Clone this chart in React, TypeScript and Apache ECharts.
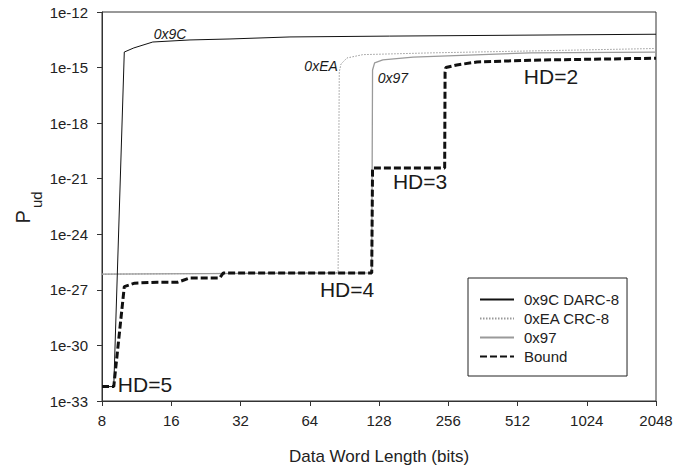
import React, { useEffect, useRef } from "react";
import * as echarts from "echarts";

// ---- Data (x: data word length in bits, y: Pud) ----
const xTicks = [8, 16, 32, 64, 128, 256, 512, 1024, 2048];

const darcX = [8, 9, 10, 11, 13.3, 19.3, 28.8, 52.5, 142, 2048];
const darcY = [6e-33, 6e-33, 6.9e-15, 1.15e-14, 2.4e-14, 3.1e-14, 3.5e-14, 4.5e-14, 5e-14, 6.3e-14];

const crcX = [8, 85, 86, 87.5, 92.9, 109, 214, 2048];
const crcY = [7e-27, 8.5e-27, 5.8e-16, 1.55e-15, 3.3e-15, 5e-15, 6.2e-15, 1.07e-14];

const p97X = [8, 119, 120, 122.5, 133, 180, 581, 2048];
const p97Y = [7e-27, 8.3e-27, 7.4e-16, 1.78e-15, 2.57e-15, 3.7e-15, 6.2e-15, 6.9e-15];

const boundX = [8, 9, 10, 11.1, 13.9, 17.1, 19.3, 26, 26.9, 119, 120, 247, 248, 250, 279, 341, 581, 2048];
const boundY = [6e-33, 6e-33, 1.5e-27, 2.3e-27, 2.6e-27, 2.6e-27, 4.4e-27, 4.4e-27, 8.1e-27, 8.1e-27,
  3.8e-21, 3.8e-21, 5.8e-16, 1e-15, 1.38e-15, 2e-15, 2.5e-15, 3.2e-15];

const seriesNames = ["0x9C DARC-8", "0xEA CRC-8", "0x97", "Bound"];

const annText = ["0x9C", "0xEA", "0x97", "HD=2", "HD=3", "HD=4", "HD=5"];
const annX = [15.8, 71.7, 147, 716, 193, 93, 12.3];
const annY = [6.5e-14, 1.2e-15, 2.75e-16, 3.1e-16, 7.4e-22, 1.1e-27, 8.1e-33];
const annItalic = [true, true, true, false, false, false, false];

const FONT = "'Liberation Sans', Arial, Helvetica, sans-serif";

function pts(xs: number[], ys: number[]) {
  return xs.map((x, i) => [x, Math.log10(ys[i])]);
}

export default function App() {
  const ref = useRef<HTMLDivElement>(null);
  useEffect(() => {
    if (!ref.current) return;
    const chart = echarts.init(ref.current, undefined, { renderer: "svg" });
    const lineBase = { type: "line", showSymbol: false, symbol: "none", smooth: false, silent: true };
    const clear = "rgba(0,0,0,0)";
    chart.setOption({
      animation: false,
      textStyle: { fontFamily: FONT },
      grid: {
        left: 102, right: 28, top: 12, bottom: 66,
        outerBoundsMode: "none", containLabel: false,
        show: true, borderColor: "#333", borderWidth: 1, backgroundColor: "transparent",
      },
      xAxis: {
        type: "log", logBase: 2, min: xTicks[0], max: xTicks[xTicks.length - 1],
        name: "Data Word Length (bits)", nameLocation: "middle", nameGap: 47,
        nameTextStyle: { fontSize: 17, color: "#222", fontFamily: FONT },
        axisLine: { lineStyle: { color: "#333", width: 1 } },
        axisTick: { show: true, length: 5, lineStyle: { color: "#333" } },
        axisLabel: { fontSize: 15, color: "#222", margin: 12, fontFamily: FONT, formatter: (v: number) => String(Math.round(v)) },
        splitLine: { show: false },
        minorTick: { show: false },
      },
      yAxis: {
        type: "value", min: -33, max: -12, interval: 3,
        axisLine: { show: true, lineStyle: { color: "#333", width: 1 } },
        axisTick: { show: true, length: 5, lineStyle: { color: "#333" } },
        axisLabel: { fontSize: 15, color: "#222", margin: 14, fontFamily: FONT, formatter: (v: number) => "1e" + Math.round(v) },
        splitLine: { show: false },
      },
      legend: {
        data: seriesNames,
        orient: "vertical",
        left: 468, top: 278,
        padding: [14, 8, 12, 11],
        itemGap: 4,
        itemWidth: 34, itemHeight: 14,
        borderColor: "#222", borderWidth: 1,
        backgroundColor: "#fff",
        itemStyle: { color: clear, borderColor: clear, borderWidth: 0 },
        textStyle: { fontSize: 15, color: "#222", fontFamily: FONT, lineHeight: 15, padding: [0, 0, 0, 5] },
        selectedMode: false,
      },
      graphic: [
        {
          type: "group", x: 30, y: 206.5, rotation: Math.PI / 2,
          children: [
            { type: "text", x: -17, y: -7, style: { text: "P", fontSize: 20, fontFamily: FONT, fill: "#222", align: "left", textAlign: "left", verticalAlign: "middle", textVerticalAlign: "middle" } },
            { type: "text", x: -1.5, y: 6.8, style: { text: "ud", fontSize: 15, fontFamily: FONT, fill: "#222", align: "left", textAlign: "left", verticalAlign: "middle", textVerticalAlign: "middle" } },
          ],
        },
      ],
      series: [
        { ...lineBase, name: seriesNames[0], data: pts(darcX, darcY), lineStyle: { color: "#111", width: 1 }, itemStyle: { color: "#111" }, z: 3 },
        { ...lineBase, name: seriesNames[1], data: pts(crcX, crcY), lineStyle: { color: "#999", width: 1, type: [1.5, 1.5] }, itemStyle: { color: "#999" }, z: 2 },
        { ...lineBase, name: seriesNames[2], data: pts(p97X, p97Y), lineStyle: { color: "#9a9a9a", width: 1.3 }, itemStyle: { color: "#9a9a9a" }, z: 2 },
        { ...lineBase, name: seriesNames[3], data: pts(boundX, boundY), lineStyle: { color: "#111", width: 3, type: [7, 3] }, itemStyle: { color: "#111" }, z: 4 },
        {
          type: "scatter", name: "labels", silent: true, symbolSize: 1, itemStyle: { color: clear }, z: 5,
          data: annText.map((t, i) => ({
            name: t,
            value: [annX[i], Math.log10(annY[i])],
            label: {
              show: true, position: "inside", formatter: t, color: "#1a1a1a", fontFamily: FONT,
              textBorderWidth: 0, textBorderColor: clear, opacity: 1,
              fontSize: annItalic[i] ? 14 : 21, fontStyle: annItalic[i] ? "italic" : "normal",
            },
          })),
        },
      ],
    });
    return () => chart.dispose();
  }, []);
  return <div ref={ref} style={{ position: "absolute", left: 0, top: 0, width: 684, height: 467 }} />;
}
